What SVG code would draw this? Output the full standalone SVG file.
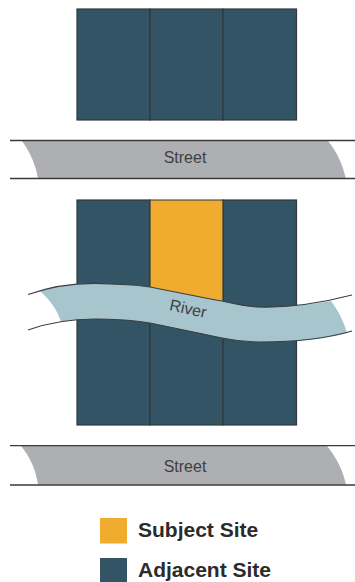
<svg xmlns="http://www.w3.org/2000/svg" width="355" height="582" viewBox="0 0 355 582">
<style>
.lot{fill:#325465;stroke:#33393d;stroke-width:1.2}
.subj{fill:#f0ac2f;stroke:#33393d;stroke-width:1.2}
.road{fill:#aeafb2}
.edge{stroke:#3a3a3c;stroke-width:1.3;fill:none}
.rv{fill:none;stroke:#3a3f42;stroke-width:1.1}
.lbl{font-family:"Liberation Sans",Arial,sans-serif;font-size:16px;fill:#3f3f41;text-anchor:middle}
.leg{font-family:"Liberation Sans",Arial,sans-serif;font-size:21px;font-weight:700;fill:#2b2b2d}
</style>
<rect width="355" height="582" fill="#fff"/>
<g id="block-top">
<rect class="lot" x="77" y="9" width="73" height="111"/>
<rect class="lot" x="150" y="9" width="73" height="111"/>
<rect class="lot" x="223" y="9" width="73.500" height="111"/>
</g>
<g id="street-top">
<path class="road" d="M22 141H328C338 153 343 166 346 179H38C36 165 30 152 22 141Z"/>
<path class="edge" d="M10 140.500H355M10 178.500H355"/>
<text class="lbl" x="185" y="163">Street</text>
</g>
<g id="block-bottom">
<rect class="lot" x="77" y="200" width="73" height="225"/>
<rect class="lot" x="150" y="300" width="73" height="125"/>
<rect class="lot" x="223" y="200" width="73.500" height="225"/>
<path class="subj" d="M150 200H223V302H150Z"/>
</g>
<g id="river">
<path d="M40 291C62 284 88 282 110 284C125 284.600 138 284.800 150 287C175 292 200 297 222 301C235 304 246 306.500 257 307C282 307.800 307 305 331 301C339 312 344 322 347 333C320 340 290 342 260 342C247 342 234 340.500 222 338C198 333 175 328 150 323C133 320 117 319.300 100 319C85 318.800 72 320 61 322C58 311 50 300 40 291Z" fill="#a7c5cd"/>
<path class="rv" d="M28 294.500C55 285 85 282 110 284C125 284.600 138 284.800 150 287C175 292 200 297 222 301C235 304 246 306.500 257 307C290 308 325 302 352 295"/>
<path class="rv" d="M28 330C50 322 75 318.500 100 319C117 319.300 133 320 150 323C175 328 198 333 222 338C234 340.500 247 342 260 342C292 342 325 339 352 331"/>
<text transform="translate(187 314) rotate(12)" class="lbl">River</text>
</g>
<g id="street-bottom">
<path class="road" d="M21 446H327C337 458 343 471 346 484.500H38C36 470 30 457 21 446Z"/>
<path class="edge" d="M10 445.700H355M10 485H355"/>
<text class="lbl" x="185" y="472">Street</text>
</g>
<g id="legend-subject">
<rect x="100" y="518" width="27" height="25.500" fill="#f0ac2f"/>
<text class="leg" x="138" y="537">Subject Site</text>
</g>
<g id="legend-adjacent">
<rect x="100" y="558" width="27" height="24" fill="#325465"/>
<text class="leg" x="138" y="577">Adjacent Site</text>
</g>
</svg>
